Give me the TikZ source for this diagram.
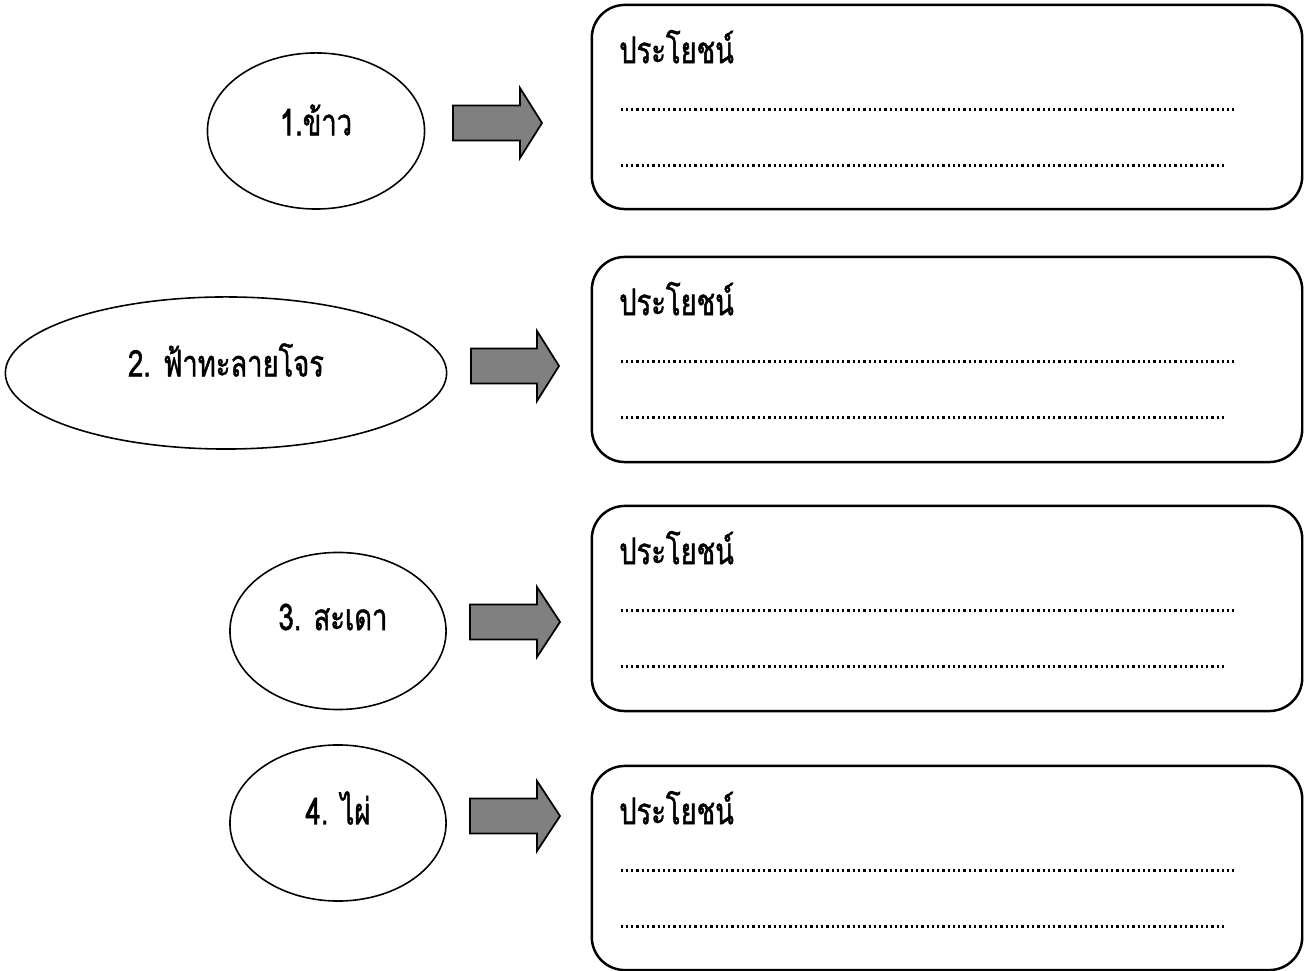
\documentclass[tikz,border=0pt]{standalone}
\usepackage{fontspec}
\newfontfamily\thaifont[Script=Thai,FakeStretch=0.74,FakeBold=1.2]{Loma}
\usetikzlibrary{shapes.geometric,calc}
\tikzset{plant/.style={
    draw, ellipse, line width=0.45pt, inner sep=0pt
  },
  word/.style={
    font=\thaifont\fontsize{10.5}{12}\selectfont, inner sep=0pt
  },
  answer box/.style={
    draw, line width=0.7pt, rounded corners=0.33cm,
    minimum width=7.1cm, inner sep=0pt
  },
  blank line/.style={
    line width=0.75pt, dash pattern=on 0.65pt off 0.85pt
  },
  block arrow/.style={
    draw, line width=0.5pt, fill=gray, line join=miter
  }
}

\begin{document}
\begin{tikzpicture}[x=0.01cm,y=-0.01cm]
  \useasboundingbox (0,0) rectangle (1307,971);

  % -- The four plants.
  \node[plant, minimum width=2.17cm, minimum height=1.56cm] (e1) at (316,131) {};
  \node[plant, minimum width=4.41cm, minimum height=1.52cm] (e2) at (226,373) {};
  \node[plant, minimum width=2.16cm, minimum height=1.57cm] (e3) at (338,631) {};
  \node[plant, minimum width=2.16cm, minimum height=1.56cm] (e4) at (338,823) {};
  \node[word] (name1) at ($(e1)+(0,-11)$) {1.ข้าว};
  \node[word] (name2) at ($(e2)+(0,-13)$) {2. ฟ้าทะลายโจร};
  \node[word] (name3) at ($(e3)+(-5,-14)$) {3. สะเดา};
  \node[word] (name4) at ($(e4)+(0,-15)$) {4. ไผ่};

  % -- The answer boxes.
  \node[answer box, minimum height=2.04cm] (box1) at (947,107) {};
  \node[answer box, minimum height=2.05cm] (box2) at (947,359.5) {};
  \node[answer box, minimum height=2.05cm] (box3) at (947,608.5) {};
  \node[answer box, minimum height=2.04cm] (box4) at (947,868) {};
  \foreach \b in {box1,box2,box3,box4} {
    \node[word, anchor=west] (head-\b) at ($(\b.north west)+(28,43)$) {ประโยชน์};
    \draw[blank line] ($(\b.north west)+(30,106)$) -- ++(613,0);
    \draw[blank line] ($(\b.north west)+(30,162)$) -- ++(605,0);
  }

  % -- The block arrows.
  \coordinate (a1) at (453,123);
  \coordinate (a2) at (471,366);
  \coordinate (a3) at (470,622);
  \coordinate (a4) at (470,816);
  \draw[block arrow] (a1) ++(0,-17.5) -- ++(67,0) -- ++(0,-17.5) -- ++(22,35) -- ++(-22,35) -- ++(0,-17.5) -- ++(-67,0) -- cycle;
  \draw[block arrow] (a2) ++(0,-17.5) -- ++(66,0) -- ++(0,-17.5) -- ++(22,35) -- ++(-22,35) -- ++(0,-17.5) -- ++(-66,0) -- cycle;
  \draw[block arrow] (a3) ++(0,-17.5) -- ++(67,0) -- ++(0,-17.5) -- ++(23,35) -- ++(-23,35) -- ++(0,-17.5) -- ++(-67,0) -- cycle;
  \draw[block arrow] (a4) ++(0,-17.5) -- ++(67,0) -- ++(0,-17.5) -- ++(23,35) -- ++(-23,35) -- ++(0,-17.5) -- ++(-67,0) -- cycle;
\end{tikzpicture}
\end{document}
